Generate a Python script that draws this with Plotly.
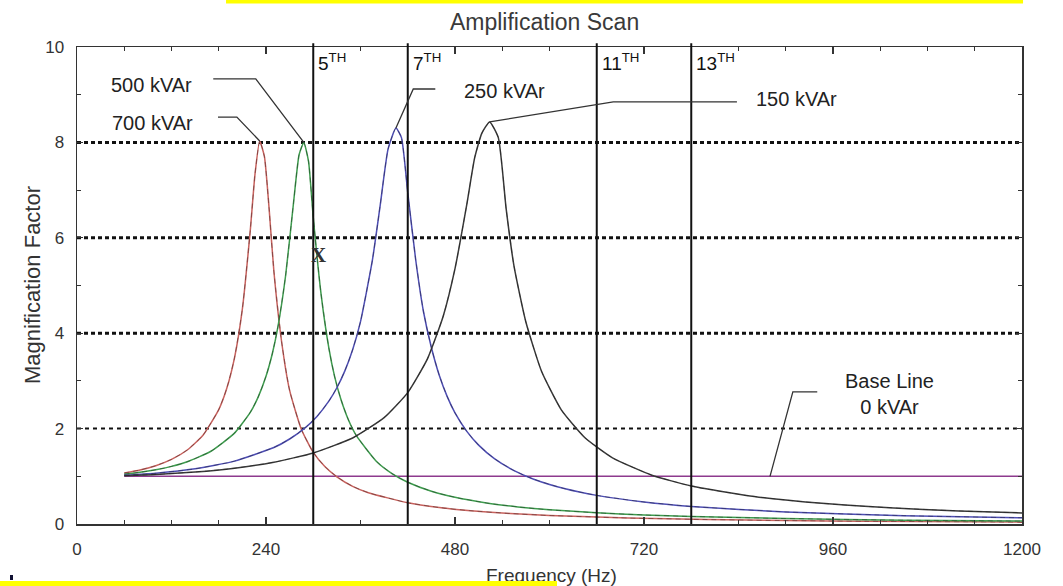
import plotly.graph_objects as go

# ---------------- data ----------------
red_f = [60, 80, 100, 120, 140, 160, 180, 190, 200, 210, 220, 226, 232, 238, 244, 250, 260, 270, 285, 300,
         315, 330, 350, 370, 420, 460, 500, 550, 600, 700, 800, 900, 1000, 1200]
red_m = [1.070, 1.132, 1.222, 1.354, 1.551, 1.861, 2.398, 2.834, 3.484, 4.51, 6.15, 7.33, 8.03, 7.70, 6.60, 5.30,
         3.80, 2.80, 1.98, 1.50, 1.20, 0.99, 0.79, 0.656, 0.445, 0.346, 0.278, 0.220, 0.178, 0.125, 0.093,
         0.072, 0.058, 0.039]

green_f = [60, 80, 100, 120, 140, 170, 200, 220, 230, 240, 248, 255, 265, 275, 282, 288, 294, 300, 310, 320,
           327, 335, 345, 355, 380, 400, 420, 450, 480, 520, 560, 600, 660, 720, 780, 900, 1050, 1200]
green_m = [1.045, 1.083, 1.136, 1.208, 1.305, 1.525, 1.905, 2.340, 2.66, 3.098, 3.57, 4.12, 5.22, 6.74, 7.74,
           8.00, 7.60, 6.43, 4.81, 3.67, 3.10, 2.62, 2.17, 1.846, 1.317, 1.058, 0.876, 0.687, 0.559, 0.440,
           0.358, 0.298, 0.235, 0.190, 0.158, 0.114, 0.081, 0.061]

blue_f = [60, 100, 150, 200, 250, 270, 290, 305, 320, 330, 340, 350, 360, 375, 385, 395, 405, 412, 420, 430,
          440, 450, 460, 470, 480, 495, 510, 530, 555, 580, 620, 660, 720, 780, 900, 1050, 1200]
blue_m = [1.022, 1.064, 1.157, 1.318, 1.604, 1.782, 2.021, 2.261, 2.580, 2.856, 3.205, 3.653, 4.243, 5.52,
          6.68, 7.86, 8.30, 8.10, 6.95, 5.55, 4.45, 3.70, 3.118, 2.675, 2.330, 1.941, 1.653, 1.370, 1.119,
          0.939, 0.737, 0.600, 0.461, 0.368, 0.253, 0.175, 0.129]

black_f = [60, 100, 150, 200, 250, 300, 350, 390, 420, 445, 465, 480, 495, 505, 514, 524, 535, 545, 555, 570,
           590, 615, 645, 680, 730, 780, 850, 900, 950, 1000, 1075, 1120, 1200]
black_m = [1.013, 1.038, 1.090, 1.171, 1.296, 1.488, 1.803, 2.229, 2.754, 3.461, 4.357, 5.354, 6.70, 7.68,
           8.19, 8.43, 8.10, 6.60, 5.40, 4.235, 3.196, 2.394, 1.809, 1.388, 1.023, 0.797, 0.598, 0.501,
           0.428, 0.371, 0.306, 0.275, 0.232]

base_f = [60, 1200]
base_m = [1.0, 1.0]

series_names = ["700 kVAr", "500 kVAr", "250 kVAr", "150 kVAr"]
series_colors = ["#c8625e", "#3e9c4e", "#4e4eb4", "#3a3a3a"]

harm_hz = [300, 420, 660, 780]
harm_labels = ["5<sup>TH</sup>", "7<sup>TH</sup>", "11<sup>TH</sup>", "13<sup>TH</sup>"]

x_ticks = [0, 240, 480, 720, 960, 1200]
y_ticks = [0, 2, 4, 6, 8, 10]
grid_dotted = [4, 6, 8]
grid_dashed = [2]

title_text = "Amplification Scan"
x_title = "Frequency (Hz)"
y_title = "Magnification Factor"

# ---------------- figure ----------------
TXT = "Liberation Sans, Arial, sans-serif"

fig = go.Figure()

shapes = []
for g in grid_dotted:
    shapes.append(dict(type="line", xref="paper", yref="y", x0=0, x1=1, y0=g, y1=g, layer="below",
                       line=dict(color="#111", width=3, dash="4px,3px")))
for g in grid_dashed:
    shapes.append(dict(type="line", xref="paper", yref="y", x0=0, x1=1, y0=g, y1=g, layer="below",
                       line=dict(color="#111", width=2, dash="4px,4px")))
for h in harm_hz:
    shapes.append(dict(type="line", xref="x", yref="paper", x0=h, x1=h, y0=0, y1=1.008, layer="above",
                       line=dict(color="#111", width=2)))

all_series = [(red_f, red_m), (green_f, green_m), (blue_f, blue_m), (black_f, black_m)]

fig.add_trace(go.Scatter(x=base_f, y=base_m, mode="lines", line=dict(color="#8e3a8e", width=1.6),
                         hoverinfo="skip", showlegend=False))
for (f, m), c, n in zip(all_series, series_colors, series_names):
    fig.add_trace(go.Scatter(x=f, y=m, mode="lines", name=n,
                             line=dict(color=c, width=1.5, shape="spline", smoothing=0.5),
                             hoverinfo="skip", showlegend=False))
    fig.add_trace(go.Scatter(x=f, y=m, mode="lines",
                             line=dict(color="rgba(20,20,20,0.45)", width=0.8, dash="5px,4px",
                                       shape="spline", smoothing=0.5),
                             hoverinfo="skip", showlegend=False))


def peak(f, m):
    i = max(range(len(m)), key=lambda k: m[k])
    return f[i], m[i]


pr = peak(red_f, red_m)
pg = peak(green_f, green_m)
pb = peak(blue_f, blue_m)
pk = peak(black_f, black_m)

leaders = [
    [(173, 9.33), (227, 9.33), pg],
    [(179, 8.53), (203, 8.53), pr],
    [(455, 9.12), (427, 9.12), pb],
    [(838, 8.85), (681, 8.85), pk],
    [(940, 2.77), (909, 2.77), (880, base_m[0])],
]
for pts in leaders:
    d = "M " + " L ".join(f"{x},{y}" for x, y in pts)
    shapes.append(dict(type="path", xref="x", yref="y", path=d, layer="above",
                       line=dict(color="#333", width=1.3)))

# yellow highlight strips of the scanned page
shapes.append(dict(type="rect", xref="paper", yref="paper", x0=0.1577, x1=1.0011, y0=1.0912, y1=1.13,
                   fillcolor="#ffff00", line=dict(width=0), layer="above"))
shapes.append(dict(type="rect", xref="paper", yref="paper", x0=-0.0709, x1=-0.0677, y0=-0.1174, y1=-0.1069,
                   fillcolor="#111133", line=dict(width=0), layer="above"))

ann = []
lab_font = dict(family=TXT, size=20, color="#222")
ann.append(dict(x=148, y=9.20, text="500 kVAr", xanchor="right", yanchor="middle", showarrow=False, font=lab_font))
ann.append(dict(x=150, y=8.41, text="700 kVAr", xanchor="right", yanchor="middle", showarrow=False, font=lab_font))
ann.append(dict(x=489, y=9.08, text="250 kVAr", xanchor="left", yanchor="middle", showarrow=False, font=lab_font))
ann.append(dict(x=860, y=8.91, text="150 kVAr", xanchor="left", yanchor="middle", showarrow=False, font=lab_font))
ann.append(dict(x=1032, y=2.73, text="Base Line<br>0 kVAr", xanchor="center", yanchor="middle",
                showarrow=False, font=lab_font))
for h, t in zip(harm_hz, harm_labels):
    ann.append(dict(x=h, y=10, yref="y", text=t, xanchor="left", yanchor="top", xshift=3, yshift=-1,
                    showarrow=False, font=dict(family=TXT, size=19, color="#111")))
ann.append(dict(x=307, y=5.64, text="<b>X</b>", showarrow=False, xanchor="center", yanchor="middle",
                font=dict(family="Liberation Serif, serif", size=21, color="#333")))
ann.append(dict(xref="paper", yref="paper", x=0.5026, y=-0.109, text=x_title, showarrow=False,
                xanchor="center", yanchor="middle", font=dict(family=TXT, size=19, color="#333")))
ann.append(dict(xref="paper", yref="paper", x=-0.0476, y=0.501, text=y_title, showarrow=False, textangle=-90,
                xanchor="center", yanchor="middle", font=dict(family=TXT, size=22, color="#333")))
ann.append(dict(xref="paper", yref="paper", x=-0.0815, y=-0.1195, xanchor="left", yanchor="top", text=" ",
                width=557, height=6, bgcolor="#ffff00", borderpad=0, borderwidth=0, showarrow=False,
                font=dict(size=2)))

axis_common = dict(showline=True, linecolor="#333", linewidth=1.5, mirror="allticks", ticks="inside",
                   tickcolor="#333", tickwidth=1.3, showgrid=False, zeroline=False,
                   tickfont=dict(family=TXT, size=17, color="#333"))

fig.update_layout(
    width=1063, height=586,
    margin=dict(l=77, r=41, t=47, b=62),
    paper_bgcolor="white", plot_bgcolor="white",
    title=dict(text=title_text, xref="container", x=0.5123, xanchor="center", yref="container", y=0.962,
               yanchor="middle", font=dict(family=TXT, size=23, color="#3a3a3a")),
    xaxis=dict(range=[0, 1200], tickvals=x_ticks, ticklen=7, ticklabelstandoff=9,
               minor=dict(tick0=0, dtick=60, ticklen=4, ticks="inside", tickcolor="#333", tickwidth=1),
               **axis_common),
    yaxis=dict(range=[0, 10], tickvals=y_ticks, ticklen=6, ticklabelstandoff=8,
               minor=dict(tick0=0, dtick=1, ticklen=4, ticks="inside", tickcolor="#333", tickwidth=1),
               **axis_common),
    shapes=shapes,
    annotations=ann,
    showlegend=False,
)

fig.write_html("out.html", config={"displayModeBar": False, "staticPlot": True},
               post_script="document.body.style.margin='0';document.body.style.overflow='hidden';")
